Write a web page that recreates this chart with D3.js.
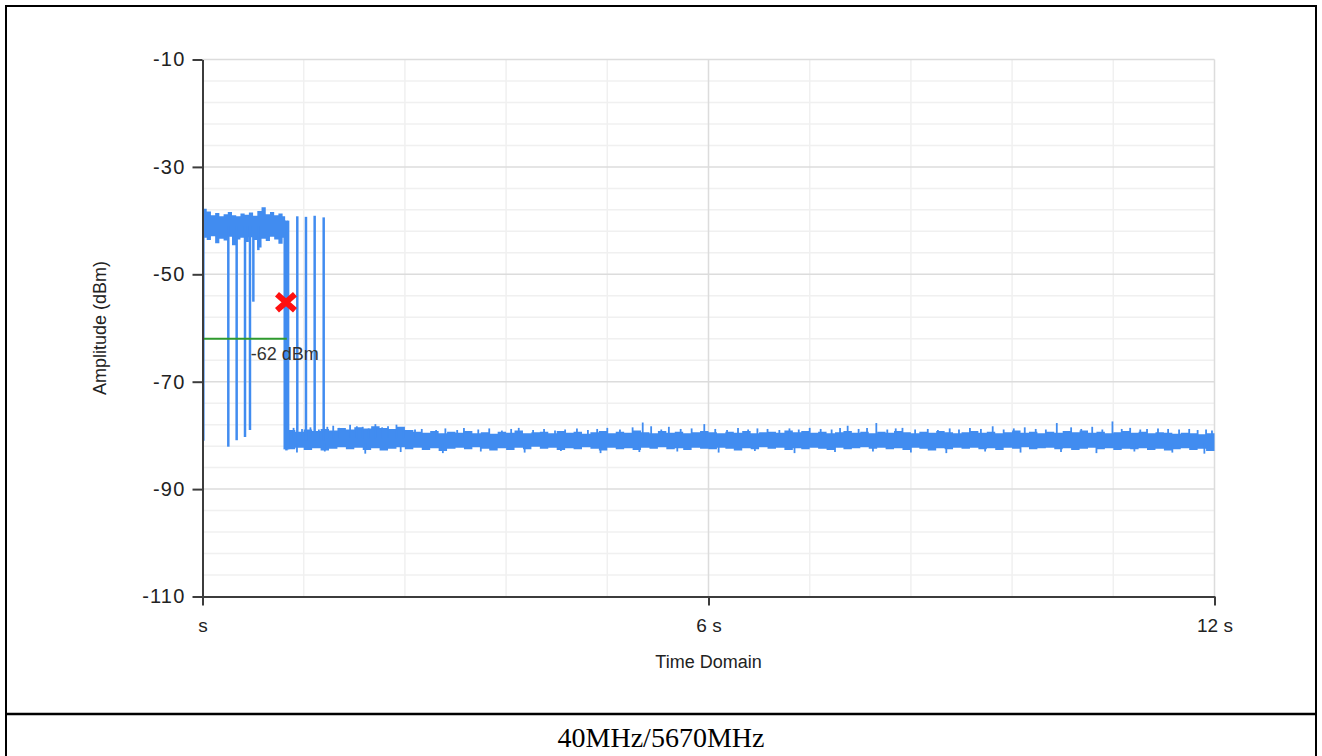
<!DOCTYPE html>
<html>
<head>
<meta charset="utf-8">
<script src="https://cdn.jsdelivr.net/npm/d3@7"></script>
<style>
    body { margin: 0; background: #fff; }
    svg { display: block; }
    .tick text { fill: #222; }
</style>
</head>
<body>
<svg id="chart" width="1322" height="756"></svg>
<script>

// y ticks (dBm) and x tick labels (s)
var yTicks = [-10, -30, -50, -70, -90, -110];
var xTicks = [0, 6, 12];
var xTickLabels = ["s", "6 s", "12 s"];

// high level burst, 0..1 s, one value every 0.05 s (upper / lower edge of the trace)
var burstUpper = [-37.8, -38.3, -39.0, -38.6, -39.2, -38.8, -38.4, -39.0, -39.2, -38.7, -38.9,
                  -38.5, -39.1, -38.2, -37.5, -38.8, -38.4, -39.0, -38.7, -39.2, -39.4];
var burstLower = [-43.2, -43.6, -42.9, -44.2, -43.4, -43.7, -43.0, -44.6, -43.5, -43.2, -44.0,
                  -43.1, -43.6, -45.0, -43.4, -43.8, -43.0, -43.5, -44.3, -43.2, -43.1];

// noise floor, 1..12 s, one value every 0.1 s
var floorUpper = [
    -79.0, -79.3, -78.9, -79.2, -78.8, -79.1, -78.6, -78.9, -78.5, -78.7,
    -78.3, -78.6, -78.8, -78.4, -79.0, -79.3, -79.5, -79.2, -79.6, -79.3,
    -79.5, -79.2, -79.6, -79.4, -79.7, -79.3, -79.5, -79.1, -79.6, -79.4,
    -79.3, -79.6, -79.2, -79.5, -79.3, -79.7, -79.4, -79.2, -79.6, -79.3,
    -79.5, -79.1, -79.4, -79.6, -79.2, -79.5, -79.3, -79.6, -79.4, -79.2,
    -79.4, -79.6, -79.3, -79.5, -79.2, -79.6, -79.4, -79.3, -79.5, -79.1,
    -79.4, -79.2, -79.5, -79.3, -79.6, -79.4, -79.2, -79.5, -79.3, -79.6,
    -79.3, -79.5, -79.2, -79.4, -79.6, -79.3, -79.5, -79.2, -79.4, -79.6,
    -79.4, -79.2, -79.5, -79.3, -79.6, -79.4, -79.1, -79.5, -79.3, -79.6,
    -79.3, -79.5, -79.2, -79.4, -79.1, -79.5, -79.3, -79.6, -79.4, -79.2,
    -79.5, -79.3, -79.6, -79.4, -79.5, -79.7, -79.5, -79.6, -79.8, -79.6,
    -79.7
];
var floorLower = [
    -82.6, -82.3, -82.7, -82.4, -82.8, -82.5, -82.2, -82.6, -82.3, -82.7,
    -82.4, -82.8, -82.5, -82.2, -82.6, -82.3, -82.7, -82.4, -82.9, -82.5,
    -82.3, -82.6, -82.2, -82.5, -82.8, -82.4, -82.7, -82.3, -82.6, -82.1,
    -82.5, -82.3, -82.7, -82.4, -82.6, -82.2, -82.5, -82.8, -82.3, -82.6,
    -82.4, -82.7, -82.3, -82.5, -82.2, -82.6, -82.4, -82.7, -82.3, -82.5,
    -82.6, -82.3, -82.5, -82.8, -82.4, -82.6, -82.2, -82.5, -82.3, -82.7,
    -82.4, -82.6, -82.3, -82.5, -82.7, -82.3, -82.6, -82.4, -82.2, -82.5,
    -82.3, -82.6, -82.4, -82.7, -82.3, -82.5, -82.8, -82.4, -82.6, -82.3,
    -82.5, -82.3, -82.6, -82.4, -82.7, -82.3, -82.5, -82.2, -82.6, -82.4,
    -82.3, -82.6, -82.4, -82.7, -82.5, -82.3, -82.6, -82.4, -82.7, -82.5,
    -82.6, -82.4, -82.7, -82.5, -82.8, -82.6, -82.4, -82.7, -82.5, -82.9,
    -82.7
];

// single noise peaks sticking out of the floor
var peakTimes = [1.08, 1.18, 1.28, 1.38, 1.48, 1.55, 1.62, 1.75, 1.83, 1.9, 1.97, 2.05, 2.13,
                 2.2, 2.3, 2.38, 2.52, 2.6, 2.77, 2.88, 3.02, 3.1, 3.27, 3.4, 3.55, 3.66, 3.75,
                 3.92, 4.05, 4.18, 4.3, 4.44, 4.57, 4.68, 4.8, 4.95, 5.1, 5.22, 5.32, 5.44,
                 5.53, 5.67, 5.8, 5.95, 6.08, 6.22, 6.35, 6.47, 6.58, 6.7, 6.84, 6.96, 7.07,
                 7.2, 7.33, 7.46, 7.56, 7.65, 7.78, 7.88, 7.99, 8.12, 8.22, 8.3, 8.45, 8.6,
                 8.72, 8.86, 8.97, 9.1, 9.23, 9.37, 9.5, 9.62, 9.75, 9.88, 10.0, 10.13, 10.3,
                 10.42, 10.55, 10.67, 10.79, 10.9, 11.0, 11.12, 11.2, 11.33, 11.45, 11.58,
                 11.7, 11.8, 11.9, 11.97];
var peakValues = [-78.6, -78.8, -78.5, -78.9, -78.4, -78.2, -78.6, -78.0, -78.3, -78.4, -78.7,
                  -77.9, -78.5, -78.3, -78.0, -78.6, -78.9, -78.8, -79.0, -78.7, -79.0, -78.6,
                  -78.9, -78.7, -79.1, -78.8, -78.6, -79.0, -78.8, -79.1, -78.9, -78.7, -79.0,
                  -78.8, -78.6, -78.9, -78.5, -77.6, -78.3, -78.9, -78.4, -78.8, -78.7, -77.9,
                  -78.8, -79.0, -78.6, -78.9, -78.7, -78.8, -79.0, -78.7, -78.9, -78.6, -78.8,
                  -78.9, -78.6, -78.2, -78.8, -78.6, -77.7, -78.9, -78.7, -78.6, -78.9, -78.8,
                  -79.0, -78.7, -78.9, -78.6, -78.8, -78.3, -78.9, -78.7, -78.5, -78.8, -78.9,
                  -77.7, -78.5, -78.8, -78.4, -78.9, -77.4, -78.8, -78.6, -78.9, -78.8, -78.7,
                  -78.8, -78.9, -78.8, -79.0, -78.9, -79.1];

// single dips below the floor
var dipTimes = [1.12, 1.45, 1.93, 2.35, 2.85, 3.3, 3.82, 4.25, 4.72, 5.18, 5.63, 6.12, 6.55,
                7.02, 7.5, 7.95, 8.4, 8.82, 9.28, 9.7, 10.18, 10.6, 11.05, 11.5, 11.88];
var dipValues = [-83.2, -83.0, -83.4, -83.1, -83.3, -83.0, -83.2, -82.9, -83.3, -83.1, -83.0,
                 -83.2, -82.9, -83.3, -83.1, -83.0, -83.2, -83.3, -83.0, -83.2, -83.1, -83.3,
                 -83.0, -83.2, -83.4];

// vertical transitions (drops during burst, main drop, short bursts after)
var spikeTimes   = [0.01, 0.306, 0.405, 0.504, 0.563, 0.603, 0.662, 0.975, 0.995, 1.015, 1.124, 1.227, 1.33, 1.437];
var spikeTops    = [-41, -41, -41, -41, -41, -41, -41, -40, -40, -40, -39.2, -39.3, -39.1, -39.4];
var spikeBottoms = [-81, -82.1, -80.9, -80.3, -79.0, -55.1, -45.5, -82.6, -82.8, -82.6, -81, -81, -81, -81];

// threshold line and marker
var thresholdValue = -62;
var thresholdEnd = 1.0;
var thresholdLabel = "-62 dBm";
var markerTime = 0.99;
var markerValue = -55.2;

var caption = "40MHz/5670MHz";

var blue = "#418cf0";

var svg = d3.select("#chart");

var x = d3.scaleLinear().domain([0, 12]).range([202.5, 1214.5]);
var y = d3.scaleLinear().domain([-110, -10]).range([596.5, 59.5]);

// outer frame
svg.append("rect")
    .attr("x", 6).attr("y", 6)
    .attr("width", 1310).attr("height", 770)
    .attr("fill", "none")
    .attr("stroke", "#000")
    .attr("stroke-width", 2);

svg.append("line")
    .attr("x1", 6).attr("x2", 1316)
    .attr("y1", 714).attr("y2", 714)
    .attr("stroke", "#000")
    .attr("stroke-width", 2.5);

svg.append("text")
    .attr("x", 661).attr("y", 747)
    .attr("text-anchor", "middle")
    .style("font-family", "'Liberation Serif', 'Times New Roman', serif")
    .style("font-size", "28px")
    .attr("fill", "#000")
    .text(caption);

// grid
var grid = svg.append("g");

var minorY = d3.range(-106, -10, 4).filter(function (v) { return (v + 10) % 20 !== 0; });
var minorX = d3.range(1, 10).map(function (i) { return i * 1.2; }).filter(function (t) { return Math.abs(t - 6) > 0.01; });

grid.selectAll(".minor-y").data(minorY).enter().append("line")
    .attr("x1", x(0)).attr("x2", x(12))
    .attr("y1", function (d) { return y(d); })
    .attr("y2", function (d) { return y(d); })
    .attr("stroke", "#f0f0f0").attr("stroke-width", 1.5);

grid.selectAll(".minor-x").data(minorX).enter().append("line")
    .attr("y1", y(-10)).attr("y2", y(-110))
    .attr("x1", function (d) { return x(d); })
    .attr("x2", function (d) { return x(d); })
    .attr("stroke", "#f0f0f0").attr("stroke-width", 1.5);

grid.selectAll(".major-y").data(yTicks.slice(0, 5)).enter().append("line")
    .attr("x1", x(0)).attr("x2", x(12))
    .attr("y1", function (d) { return y(d); })
    .attr("y2", function (d) { return y(d); })
    .attr("stroke", "#dcdcdc").attr("stroke-width", 1.5);

grid.selectAll(".major-x").data([6, 12]).enter().append("line")
    .attr("y1", y(-10)).attr("y2", y(-110))
    .attr("x1", function (d) { return x(d); })
    .attr("x2", function (d) { return x(d); })
    .attr("stroke", "#dcdcdc").attr("stroke-width", 1.5);

// trace
var plot = svg.append("g");

var burstArea = d3.area()
    .curve(d3.curveStepAfter)
    .x(function (d, i) { return x(Math.min(i * 0.05, 0.98)); })
    .y0(function (d, i) { return y(burstLower[i]); })
    .y1(function (d) { return y(d); });

plot.append("path")
    .datum(burstUpper)
    .attr("d", burstArea)
    .attr("fill", blue);

var floorArea = d3.area()
    .curve(d3.curveStepAfter)
    .x(function (d, i) { return x(1 + i * 0.1); })
    .y0(function (d, i) { return y(floorLower[i]); })
    .y1(function (d) { return y(d); });

plot.append("path")
    .datum(floorUpper)
    .attr("d", floorArea)
    .attr("fill", blue);

plot.selectAll(".peak").data(peakTimes).enter().append("line")
    .attr("x1", function (d) { return x(d); })
    .attr("x2", function (d) { return x(d); })
    .attr("y1", y(-80.5))
    .attr("y2", function (d, i) { return y(peakValues[i]); })
    .attr("stroke", blue).attr("stroke-width", 1.8);

plot.selectAll(".dip").data(dipTimes).enter().append("line")
    .attr("x1", function (d) { return x(d); })
    .attr("x2", function (d) { return x(d); })
    .attr("y1", y(-81.5))
    .attr("y2", function (d, i) { return y(dipValues[i]); })
    .attr("stroke", blue).attr("stroke-width", 1.8);

plot.selectAll(".spike").data(spikeTimes).enter().append("line")
    .attr("x1", function (d) { return x(d); })
    .attr("x2", function (d) { return x(d); })
    .attr("y1", function (d, i) { return y(spikeTops[i]); })
    .attr("y2", function (d, i) { return y(spikeBottoms[i]); })
    .attr("stroke", blue).attr("stroke-width", 2.5);

// threshold
plot.append("line")
    .attr("x1", x(0)).attr("x2", x(thresholdEnd))
    .attr("y1", y(thresholdValue)).attr("y2", y(thresholdValue))
    .attr("stroke", "#2f9a2f").attr("stroke-width", 2);

plot.append("text")
    .attr("x", x(thresholdEnd) - 2)
    .attr("y", y(thresholdValue) + 21)
    .attr("text-anchor", "middle")
    .style("font-family", "'Liberation Sans', Arial, sans-serif")
    .style("font-size", "18px")
    .attr("fill", "#333")
    .text(thresholdLabel);

// marker
var mx = x(markerTime), my = y(markerValue);
plot.append("path")
    .attr("d", "M" + (mx - 9) + "," + (my - 8) + "L" + (mx + 9) + "," + (my + 8) +
               "M" + (mx + 9) + "," + (my - 8) + "L" + (mx - 9) + "," + (my + 8))
    .attr("stroke", "#ff1010")
    .attr("stroke-width", 6);

// axes
var yAxis = d3.axisLeft(y)
    .tickValues(yTicks)
    .tickSize(10)
    .tickSizeOuter(0)
    .tickPadding(7)
    .tickFormat(function (d) { return String(d); });

var xAxis = d3.axisBottom(x)
    .tickValues(xTicks)
    .tickSize(9)
    .tickSizeOuter(0)
    .tickPadding(13)
    .tickFormat(function (d, i) { return xTickLabels[i]; });

var gy = svg.append("g")
    .attr("transform", "translate(" + x(0) + ",0)")
    .call(yAxis);

var gx = svg.append("g")
    .attr("transform", "translate(0," + y(-110) + ")")
    .call(xAxis);

[gy, gx].forEach(function (g) {
    g.select(".domain").attr("stroke", "#3c3c3c").attr("stroke-width", 2);
    g.selectAll(".tick line").attr("stroke", "#3c3c3c").attr("stroke-width", 2);
    g.selectAll(".tick text")
        .style("font-family", "'Liberation Sans', Arial, sans-serif")
        .style("font-size", "19px");
});

gy.selectAll(".tick text")
    .style("font-size", "20px")
    .style("letter-spacing", "1.2px");

// axis titles
svg.append("text")
    .attr("transform", "translate(106," + ((y(-10) + y(-110)) / 2) + ") rotate(-90)")
    .attr("text-anchor", "middle")
    .style("font-family", "'Liberation Sans', Arial, sans-serif")
    .style("font-size", "18px")
    .attr("fill", "#222")
    .text("Amplitude (dBm)");

svg.append("text")
    .attr("x", x(6))
    .attr("y", 668)
    .attr("text-anchor", "middle")
    .style("font-family", "'Liberation Sans', Arial, sans-serif")
    .style("font-size", "18px")
    .attr("fill", "#222")
    .text("Time Domain");

</script>
</body>
</html>
